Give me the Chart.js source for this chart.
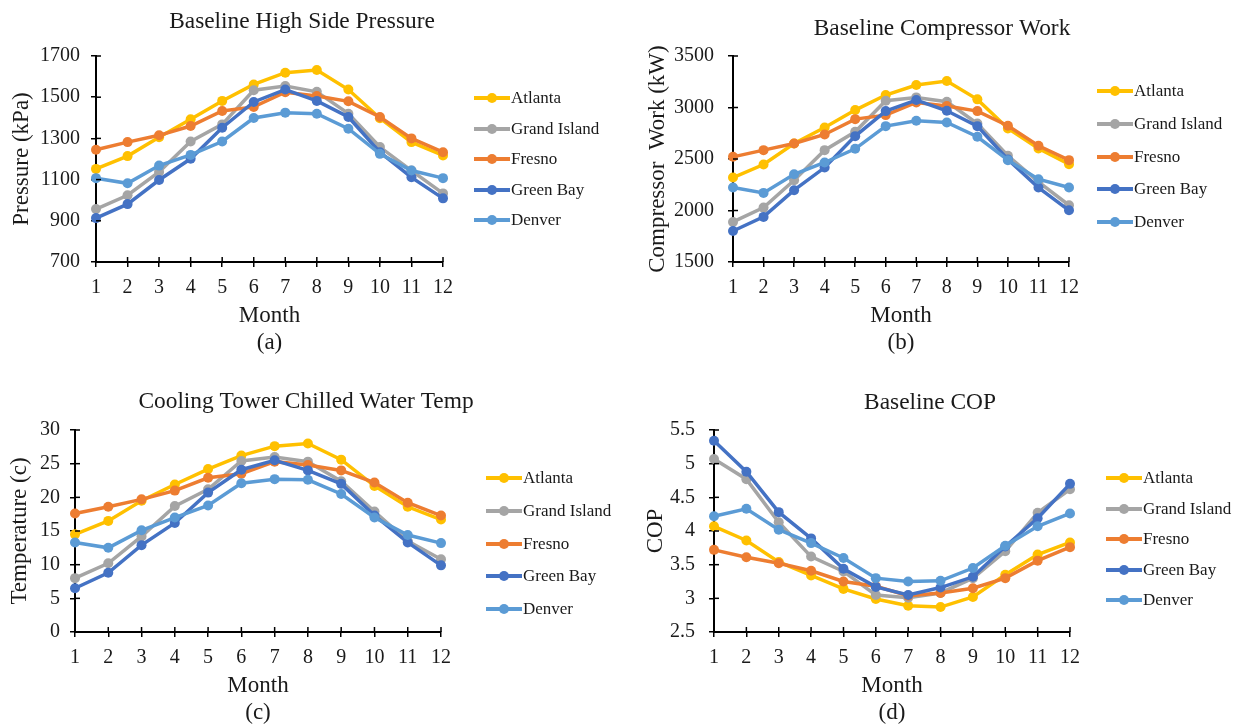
<!DOCTYPE html>
<html lang="en">
<head>
    <meta charset="UTF-8">
    <title>Baseline Performance by Month</title>
    <script src="https://cdn.jsdelivr.net/npm/chart.js"></script>
    <style>
        html, body {
            margin: 0;
            padding: 0;
            background: #fff;
            overflow: hidden;
            width: 1250px;
            height: 728px;
        }

        .panel {
            position: absolute;
        }

        .legend {
            position: absolute;
            font-family: 'Liberation Serif', 'Times New Roman', serif;
            font-size: 17px;
            color: #1a1a1a;
        }

        .legend-item {
            position: absolute;
            height: 20px;
            white-space: nowrap;
        }

        .legend-line {
            position: absolute;
            left: 0;
            top: 8px;
            width: 36px;
            height: 4px;
        }

        .legend-dot {
            position: absolute;
            left: 13px;
            top: 5px;
            width: 10px;
            height: 10px;
            border-radius: 50%;
        }

        .legend-text {
            position: absolute;
            left: 37px;
            top: 0;
            line-height: 20px;
        }
    </style>
</head>
<body>
    <div class="panel" id="panelA"><canvas id="chartA"></canvas></div>
    <div class="panel" id="panelB"><canvas id="chartB"></canvas></div>
    <div class="panel" id="panelC"><canvas id="chartC"></canvas></div>
    <div class="panel" id="panelD"><canvas id="chartD"></canvas></div>

    <script>
        // Months on the x axis
        const months = ['1', '2', '3', '4', '5', '6', '7', '8', '9', '10', '11', '12'];
        const cities = ['Atlanta', 'Grand Island', 'Fresno', 'Green Bay', 'Denver'];
        const cityColors = ['#FFC000', '#A5A5A5', '#ED7D31', '#4472C4', '#5B9BD5'];

        // (a) High side pressure, kPa
        const pressureAtlanta     = [1152, 1214, 1306, 1393, 1482, 1562, 1619, 1632, 1537, 1398, 1282, 1217];
        const pressureGrandIsland = [957, 1024, 1137, 1285, 1368, 1534, 1554, 1526, 1420, 1258, 1144, 1033];
        const pressureFresno      = [1245, 1282, 1315, 1360, 1433, 1453, 1524, 1506, 1480, 1404, 1300, 1233];
        const pressureGreenBay    = [913, 981, 1098, 1201, 1352, 1477, 1537, 1482, 1404, 1233, 1111, 1009];
        const pressureDenver      = [1107, 1082, 1168, 1220, 1285, 1399, 1425, 1420, 1347, 1225, 1144, 1107];

        // (b) Compressor work, kW
        const workAtlanta     = [2320, 2446, 2651, 2806, 2975, 3121, 3218, 3257, 3079, 2797, 2602, 2450];
        const workGrandIsland = [1889, 2028, 2294, 2586, 2764, 3066, 3098, 3056, 2845, 2531, 2278, 2051];
        const workFresno      = [2521, 2586, 2651, 2738, 2887, 2926, 3049, 3014, 2965, 2823, 2628, 2489];
        const workGreenBay    = [1801, 1938, 2197, 2417, 2722, 2965, 3072, 2968, 2819, 2495, 2223, 2002];
        const workDenver      = [2223, 2171, 2352, 2466, 2599, 2819, 2871, 2855, 2716, 2489, 2304, 2223];

        // (c) Cooling tower chilled water temperature, C
        const tempAtlanta     = [14.5, 16.5, 19.5, 21.9, 24.2, 26.2, 27.6, 28.0, 25.6, 21.7, 18.6, 16.7];
        const tempGrandIsland = [8.0, 10.2, 14.2, 18.7, 21.2, 25.4, 26.0, 25.3, 22.4, 17.9, 13.5, 10.8];
        const tempFresno      = [17.6, 18.6, 19.7, 21.0, 22.9, 23.5, 25.3, 24.8, 24.0, 22.2, 19.2, 17.3];
        const tempGreenBay    = [6.5, 8.8, 12.9, 16.2, 20.7, 24.1, 25.5, 24.0, 22.0, 17.3, 13.3, 9.9];
        const tempDenver      = [13.3, 12.5, 15.1, 17.0, 18.8, 22.1, 22.7, 22.6, 20.5, 17.0, 14.4, 13.2];

        // (d) Coefficient of performance
        const copAtlanta     = [4.07, 3.86, 3.54, 3.34, 3.14, 2.99, 2.89, 2.87, 3.02, 3.35, 3.65, 3.83];
        const copGrandIsland = [5.07, 4.77, 4.13, 3.62, 3.40, 3.05, 3.01, 3.08, 3.30, 3.70, 4.27, 4.62];
        const copFresno      = [3.72, 3.61, 3.52, 3.41, 3.25, 3.18, 3.04, 3.08, 3.15, 3.30, 3.56, 3.76];
        const copGreenBay    = [5.34, 4.88, 4.28, 3.89, 3.44, 3.17, 3.05, 3.16, 3.32, 3.77, 4.19, 4.70];
        const copDenver      = [4.22, 4.33, 4.02, 3.82, 3.60, 3.30, 3.25, 3.26, 3.45, 3.78, 4.07, 4.26];

        // y axis ranges: [min, max, step]
        const pressureAxis = [700, 1700, 200];
        const workAxis = [1500, 3500, 500];
        const tempAxis = [0, 30, 5];
        const copAxis = [2.5, 5.5, 0.5];

        const serif = "'Liberation Serif', 'Times New Roman', serif";
        const ink = '#1a1a1a';
        const titleSize = 23.4;
        const titleLine = titleSize * 1.2;

        // short tick marks on the inside of both axes
        const innerTicks = {
            id: 'innerTicks',
            afterDraw(chart) {
                const { ctx, chartArea, scales } = chart;
                ctx.save();
                ctx.strokeStyle = '#000';
                ctx.lineWidth = 1.5;
                scales.x.ticks.forEach((t, i) => {
                    const px = scales.x.getPixelForTick(i);
                    ctx.beginPath();
                    ctx.moveTo(px, chartArea.bottom);
                    ctx.lineTo(px, chartArea.bottom - 5);
                    ctx.stroke();
                });
                scales.y.ticks.forEach((t, i) => {
                    const py = scales.y.getPixelForTick(i);
                    ctx.beginPath();
                    ctx.moveTo(chartArea.left, py);
                    ctx.lineTo(chartArea.left + 5, py);
                    ctx.stroke();
                });
                ctx.restore();
            }
        };

        function makePanel(p) {
            const box = document.getElementById(p.panel);
            Object.assign(box.style, {
                left: p.left + 'px', top: p.top + 'px',
                width: p.width + 'px', height: p.height + 'px'
            });

            const datasets = p.series.map((values, i) => ({
                label: cities[i],
                data: values,
                borderColor: cityColors[i],
                backgroundColor: cityColors[i],
                borderWidth: 3.5,
                pointRadius: 5,
                pointBorderWidth: 0,
                tension: 0,
                order: p.series.length - i
            }));

            const axisGrid = { display: true, drawOnChartArea: false, drawTicks: true, tickLength: 5, color: '#000', lineWidth: 1.5 };
            const axisBorder = { display: true, color: '#000', width: 2 };

            new Chart(document.getElementById(p.canvas), {
                type: 'line',
                data: { labels: months, datasets },
                options: {
                    responsive: true,
                    maintainAspectRatio: false,
                    animation: false,
                    layout: { padding: 0 },
                    plugins: {
                        legend: { display: false },
                        tooltip: { enabled: false },
                        title: {
                            display: true,
                            text: p.title,
                            color: ink,
                            font: { family: serif, size: titleSize, weight: 'normal', lineHeight: 1.2 },
                            padding: {
                                top: p.titleY - titleLine / 2,
                                bottom: p.plotTop - titleLine - (p.titleY - titleLine / 2)
                            }
                        }
                    },
                    scales: {
                        x: {
                            offset: false,
                            border: axisBorder,
                            grid: axisGrid,
                            ticks: { color: ink, padding: 9, maxRotation: 0, font: { family: serif, size: 20 } },
                            title: {
                                display: true,
                                text: ['Month', p.caption],
                                color: ink,
                                font: { family: serif, size: 23, lineHeight: 27 / 23 },
                                padding: { top: 0, bottom: p.height - 13.5 - p.captionY }
                            },
                            afterFit(scale) {
                                scale.height = p.height - p.plotBottom;
                                scale.paddingLeft = 0;
                                scale.paddingRight = 0;
                            }
                        },
                        y: {
                            min: p.axis[0],
                            max: p.axis[1],
                            border: axisBorder,
                            grid: axisGrid,
                            ticks: {
                                stepSize: p.axis[2],
                                color: ink,
                                padding: p.yTickPad,
                                font: { family: serif, size: 20 },
                                callback: v => String(v)
                            },
                            title: {
                                display: true,
                                text: p.yTitle,
                                color: ink,
                                font: { family: serif, size: 23, lineHeight: 1.2 },
                                padding: { top: p.yTitleX - 13.8, bottom: 0 }
                            },
                            afterFit(scale) {
                                scale.width = p.plotLeft;
                            }
                        },
                        // empty space on the right where the legend sits
                        legendSpace: {
                            type: 'linear',
                            position: 'right',
                            min: 0,
                            max: 1,
                            grid: { display: false },
                            border: { display: false },
                            ticks: { display: false },
                            afterFit(scale) {
                                scale.width = p.width - p.plotRight;
                            }
                        }
                    }
                },
                plugins: [innerTicks]
            });

            // legend: line with marker, then city name
            const legend = document.createElement('div');
            legend.className = 'legend';
            legend.style.left = (p.legendX - p.left) + 'px';
            legend.style.top = '0px';
            cities.forEach((name, i) => {
                const item = document.createElement('div');
                item.className = 'legend-item';
                item.style.top = (p.legendY - p.top + i * p.legendStep - 10) + 'px';
                item.innerHTML =
                    '<span class="legend-line" style="background:' + cityColors[i] + '"></span>' +
                    '<span class="legend-dot" style="background:' + cityColors[i] + '"></span>' +
                    '<span class="legend-text">' + name + '</span>';
                legend.appendChild(item);
            });
            box.appendChild(legend);
        }

        makePanel({
            panel: 'panelA', canvas: 'chartA', left: 0, top: 0, width: 604, height: 365,
            plotLeft: 96, plotRight: 443, plotTop: 56, plotBottom: 262,
            titleY: 22, captionY: 343, yTitleX: 22, yTickPad: 11,
            title: 'Baseline High Side Pressure', yTitle: 'Pressure (kPa)', caption: '(a)',
            axis: pressureAxis,
            series: [pressureAtlanta, pressureGrandIsland, pressureFresno, pressureGreenBay, pressureDenver],
            legendX: 474, legendY: 98, legendStep: 30.5
        });

        makePanel({
            panel: 'panelB', canvas: 'chartB', left: 640, top: 0, width: 604, height: 365,
            plotLeft: 93, plotRight: 429, plotTop: 56, plotBottom: 262,
            titleY: 29, captionY: 343, yTitleX: 18, yTickPad: 14,
            title: 'Baseline Compressor Work', yTitle: 'Compressor  Work (kW)', caption: '(b)',
            axis: workAxis,
            series: [workAtlanta, workGrandIsland, workFresno, workGreenBay, workDenver],
            legendX: 1097, legendY: 91, legendStep: 32.75
        });

        makePanel({
            panel: 'panelC', canvas: 'chartC', left: 0, top: 365, width: 612, height: 370,
            plotLeft: 75, plotRight: 441, plotTop: 65, plotBottom: 267,
            titleY: 37, captionY: 348, yTitleX: 20, yTickPad: 10,
            title: 'Cooling Tower Chilled Water Temp', yTitle: 'Temperature (c)', caption: '(c)',
            axis: tempAxis,
            series: [tempAtlanta, tempGrandIsland, tempFresno, tempGreenBay, tempDenver],
            legendX: 486, legendY: 478, legendStep: 32.75
        });

        makePanel({
            panel: 'panelD', canvas: 'chartD', left: 640, top: 365, width: 580, height: 370,
            plotLeft: 74, plotRight: 430, plotTop: 65, plotBottom: 267,
            titleY: 38, captionY: 348, yTitleX: 16, yTickPad: 14,
            title: 'Baseline COP', yTitle: 'COP', caption: '(d)',
            axis: copAxis,
            series: [copAtlanta, copGrandIsland, copFresno, copGreenBay, copDenver],
            legendX: 1106, legendY: 478, legendStep: 30.5
        });
    </script>
</body>
</html>
